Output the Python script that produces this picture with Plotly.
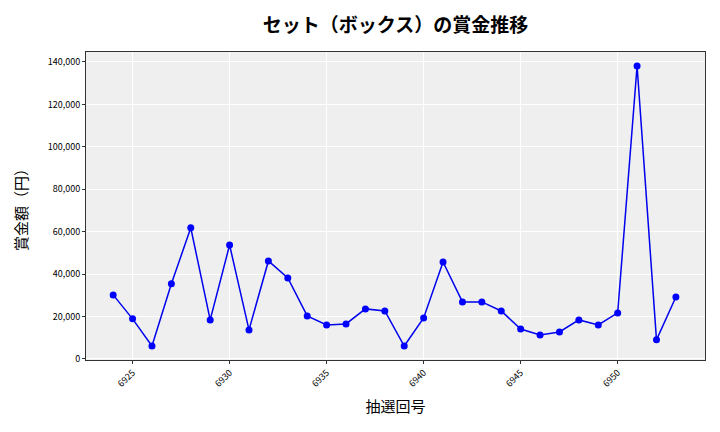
import plotly.graph_objects as go

# 抽選回号と賞金額
draws = list(range(6924, 6954))
prizes = [30200, 18900, 6100, 35400, 61800, 18400, 53700, 13700, 46200, 38200,
          20300, 16000, 16500, 23600, 22600, 6100, 19300, 45700, 26900, 26900,
          22600, 14100, 11300, 12700, 18400, 16000, 21700, 138100, 9000, 29200]

x_ticks = [6925, 6930, 6935, 6940, 6945, 6950]
y_ticks = [0, 20000, 40000, 60000, 80000, 100000, 120000, 140000]

FONT = "Noto Sans CJK JP"
W, H = 704, 416  # page has an 8px body margin

fig = go.Figure(go.Scatter(
    x=draws, y=prizes, mode="lines+markers",
    line=dict(color="#0000ee", width=1.5),
    marker=dict(color="#0000ff", size=7),
))

fig.update_layout(
    width=W, height=H,
    margin=dict(l=78, r=7, t=44, b=64, autoexpand=False),
    paper_bgcolor="white", plot_bgcolor="#efefef",
    showlegend=False,
    font=dict(family=FONT, color="black"),
    title=dict(text="<b>セット（ボックス）の賞金推移</b>", xref="paper", x=0.5, xanchor="center",
               y=1 - 17 / H, yanchor="middle", font=dict(size=19, family=FONT)),
)
fig.update_xaxes(
    range=[6922.6, 6954.5], tickvals=x_ticks, tickangle=-45,
    tickfont=dict(size=9), showgrid=True, gridcolor="white", gridwidth=1,
    showline=True, linecolor="#333", linewidth=1, mirror=True,
    ticks="outside", ticklen=3, tickcolor="#333", zeroline=False, automargin=False,
    title=dict(text="抽選回号", font=dict(size=15), standoff=12),
)
fig.update_yaxes(
    range=[-500, 144700], tickvals=y_ticks, tickformat=",d",
    tickfont=dict(size=9), showgrid=True, gridcolor="white", gridwidth=1,
    showline=True, linecolor="#333", linewidth=1, mirror=True,
    ticks="outside", ticklen=3, tickcolor="#333", zeroline=False, automargin=False,
    title=dict(text="賞金額（円）", font=dict(size=15), standoff=16),
)

fig.write_html("out.html")
